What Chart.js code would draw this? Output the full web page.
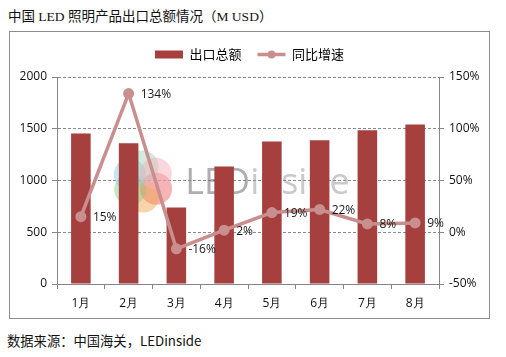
<!DOCTYPE html>
<html>
<head>
<meta charset="utf-8">
<script src="https://cdn.jsdelivr.net/npm/chart.js@4/dist/chart.umd.min.js"></script>
<style>
  html, body { margin: 0; padding: 0; background: #fff; }
  body { width: 506px; height: 357px; position: relative; overflow: hidden; }
  #title { position: absolute; left: 8px; top: 5px; font: 13.5px "Liberation Serif", "Noto Sans CJK SC", serif; color: #111; white-space: nowrap; }
  #box { position: absolute; left: 9px; top: 31px; width: 479px; height: 286px; border: 1px solid #8c8c8c; }
  #src { position: absolute; left: 7px; top: 331px; font: 13.3px "Noto Sans CJK SC", sans-serif; color: #111; white-space: nowrap; }
  canvas { display: block; }
</style>
</head>
<body>
<div id="title">中国 LED 照明产品出口总额情况（M USD）</div>
<div id="box"><canvas id="c" width="479" height="286"></canvas></div>
<div id="src">数据来源：中国海关，LEDinside</div>
<script>
const categories = ['1月', '2月', '3月', '4月', '5月', '6月', '7月', '8月'];
const exportValues = [1455, 1360, 740, 1135, 1378, 1388, 1485, 1542];
const growthPct = [15, 134, -16, 2, 19, 22, 8, 9];
const leftTicks = [0, 500, 1000, 1500, 2000];
const rightTicks = [-50, 0, 50, 100, 150];
const seriesNames = ['出口总额', '同比增速'];

const BAR = '#A5403F';
const LINE = '#C98F8E';
const AXIS = '#868686';
const tickFont = { family: '"Open Sans", "Liberation Sans", sans-serif', size: 12 };

const labelPlugin = {
  id: 'pctLabels',
  afterDatasetsDraw(chart) {
    const meta = chart.getDatasetMeta(1);
    const ctx = chart.ctx;
    ctx.save();
    ctx.font = '12px "Open Sans", "Liberation Sans", sans-serif';
    ctx.fillStyle = '#1a1a1a';
    ctx.textBaseline = 'middle';
    ctx.textAlign = 'left';
    meta.data.forEach((pt, i) => {
      ctx.fillText(growthPct[i] + '%', pt.x + 12, pt.y + 1);
    });
    ctx.restore();
  }
};

const watermark = {
  id: 'watermark',
  beforeDatasetsDraw(chart) {
    const ctx = chart.ctx;
    const a = chart.chartArea;
    const w = a.right - a.left, h = a.bottom - a.top;
    const cx = a.left + w * 0.225, cy = a.top + h * 0.505;
    ctx.save();
    const petals = ['rgba(235,90,90,0.45)', 'rgba(240,160,70,0.45)', 'rgba(140,200,130,0.45)',
                    'rgba(140,205,235,0.5)', 'rgba(150,210,180,0.45)', 'rgba(245,175,185,0.5)'];
    for (let k = 0; k < 6; k++) {
      const ang = Math.PI * 2 * k / 6 + 0.5;
      ctx.fillStyle = petals[k];
      ctx.beginPath();
      ctx.arc(cx + Math.cos(ang) * 15, cy + Math.sin(ang) * 15, 16, 0, Math.PI * 2);
      ctx.fill();
    }
    const tx = a.left + w * 0.336;
    const ty = a.top + h * 0.565;
    let size = 32;
    ctx.font = size + 'px "Open Sans", "Liberation Sans", sans-serif';
    const target = w * 0.43;
    size = size * target / ctx.measureText('LEDinside').width;
    ctx.font = size + 'px "Open Sans", "Liberation Sans", sans-serif';
    ctx.textBaseline = 'alphabetic';
    ctx.fillStyle = 'rgba(120,120,120,0.6)';
    ctx.fillText('LED', tx, ty);
    const lw = ctx.measureText('LED').width;
    ctx.fillStyle = 'rgba(150,150,150,0.5)';
    ctx.fillText('inside', tx + lw, ty);
    ctx.restore();
  }
};

const legendTweak = {
  id: 'legendTweak',
  beforeLayout(chart) {
    const lg = chart.legend;
    if (lg && !lg._padWrapped) {
      const f = lg.fit;
      lg.fit = function () { f.call(this); this.height += 6; };
      lg._padWrapped = true;
    }
  },
  afterDraw(chart) {
    const lg = chart.legend;
    if (!lg || !lg.legendHitBoxes || lg.legendHitBoxes.length < 2) return;
    const hb = lg.legendHitBoxes[1];
    const bw = lg.options.labels.pointStyleWidth;
    const ctx = chart.ctx;
    ctx.save();
    ctx.fillStyle = LINE;
    ctx.beginPath();
    ctx.arc(hb.left + bw / 2, hb.top + 13 / 2, 4, 0, Math.PI * 2);
    ctx.fill();
    ctx.restore();
  }
};

new Chart(document.getElementById('c'), {
  data: {
    labels: categories,
    datasets: [
      {
        type: 'bar', label: seriesNames[0], data: exportValues,
        backgroundColor: BAR, borderWidth: 0,
        barPercentage: 0.41, categoryPercentage: 1.0,
        yAxisID: 'y', order: 2
      },
      {
        type: 'line', label: seriesNames[1], data: growthPct,
        borderColor: LINE, backgroundColor: LINE, borderWidth: 3.5,
        pointRadius: 5.5, pointBackgroundColor: LINE, pointBorderWidth: 0,
        pointStyle: 'circle', tension: 0,
        yAxisID: 'y1', order: 1
      }
    ]
  },
  options: {
    responsive: false,
    animation: false,
    devicePixelRatio: 1,
    layout: { padding: 0 },
    plugins: {
      title: { display: false },
      tooltip: { enabled: false },
      legend: {
        display: true,
        position: 'top',
        labels: {
          usePointStyle: true,
          pointStyleWidth: 28,
          boxHeight: 8,
          padding: 16,
          color: '#111',
          font: { family: '"Noto Sans CJK SC", sans-serif', size: 13 },
          generateLabels() {
            return [
              { text: seriesNames[0], fillStyle: BAR, strokeStyle: BAR, lineWidth: 0, pointStyle: 'rect', datasetIndex: 0, hidden: false },
              { text: seriesNames[1], fillStyle: LINE, strokeStyle: LINE, lineWidth: 3.5, pointStyle: 'line', datasetIndex: 1, hidden: false }
            ];
          }
        }
      }
    },
    scales: {
      x: {
        offset: true,
        grid: { offset: true, drawOnChartArea: false, color: AXIS, tickLength: 5 },
        border: { color: AXIS, width: 1 },
        ticks: { color: '#111', font: tickFont, padding: 7 },
        afterFit(s) { s.height = 34; }
      },
      y: {
        position: 'left',
        min: 0, max: 2000,
        afterBuildTicks(s) { s.ticks = leftTicks.map(v => ({ value: v })); },
        grid: { color: '#8a8a8a', lineWidth: 1, tickLength: 5, tickColor: AXIS, tickBorderDash: [] },
        border: { color: AXIS, width: 1, dash: [3, 2] },
        ticks: { color: '#111', font: tickFont, padding: 5, callback: v => String(v) },
        afterFit(s) { s.width = 47; }
      },
      y1: {
        position: 'right',
        min: -50, max: 150,
        afterBuildTicks(s) { s.ticks = rightTicks.map(v => ({ value: v })); },
        grid: { drawOnChartArea: false, color: AXIS, tickLength: 5 },
        border: { color: AXIS, width: 1 },
        ticks: { color: '#111', font: tickFont, padding: 5, callback: v => v + '%' },
        afterFit(s) { s.width = 50; }
      }
    }
  },
  plugins: [watermark, labelPlugin, legendTweak]
});
</script>
</body>
</html>
